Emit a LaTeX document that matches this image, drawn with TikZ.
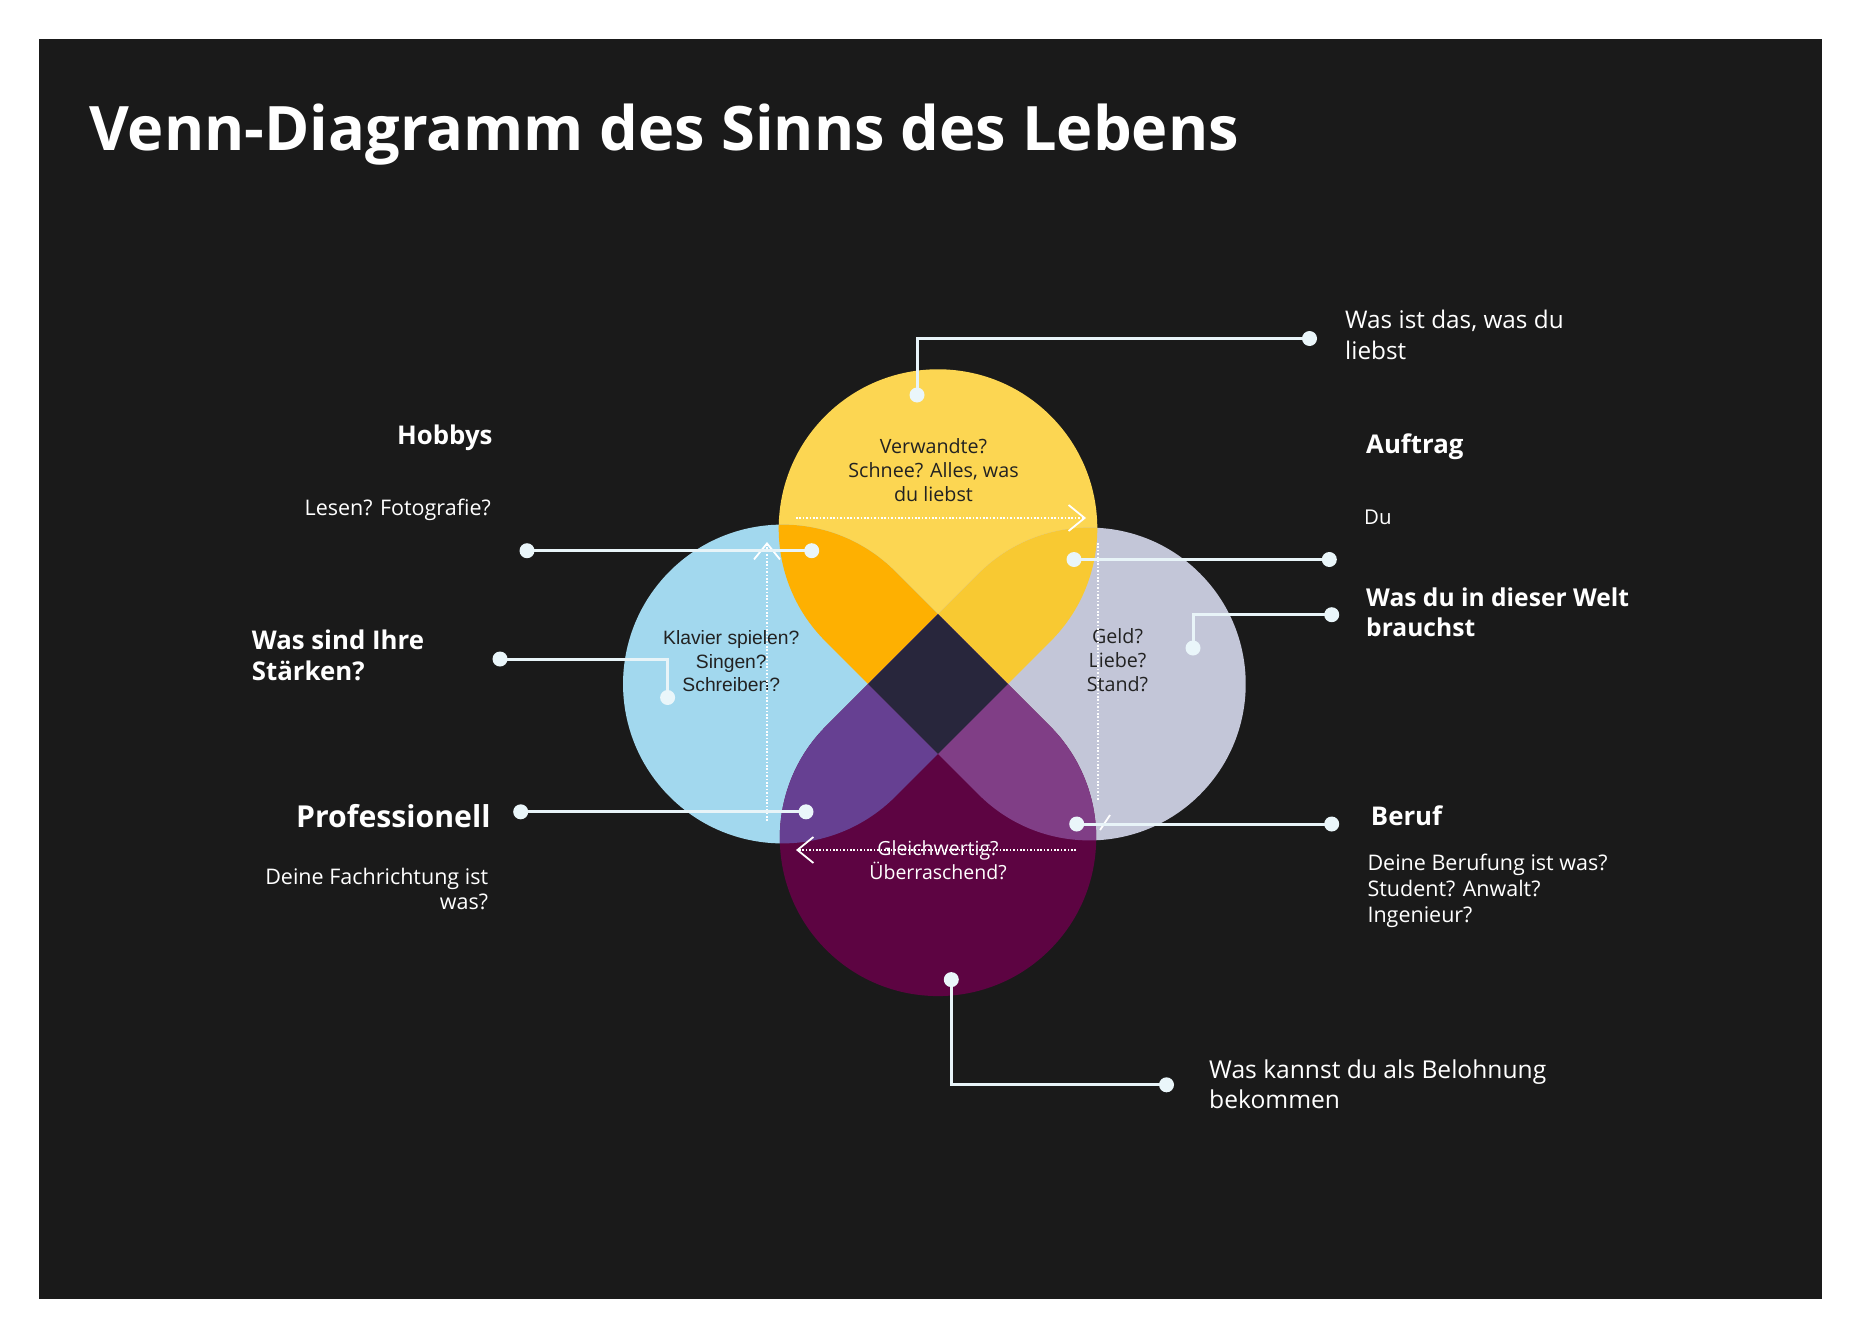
\documentclass[tikz,border=0pt]{standalone}
\usepackage{fontspec}
\setmainfont{Open Sans}
\newfontfamily\arialf{Liberation Sans}
\usetikzlibrary{arrows.meta}
\definecolor{bgdark}{HTML}{1A1A1A}
\definecolor{pyellow}{HTML}{FCD652}
\definecolor{porange}{HTML}{FEB001}
\definecolor{pgold}{HTML}{F8C932}
\definecolor{pblue}{HTML}{A2D8EE}
\definecolor{pgray}{HTML}{C3C6D8}
\definecolor{pplum}{HTML}{5D0442}
\definecolor{pviolet}{HTML}{664092}
\definecolor{pmauve}{HTML}{803E86}
\definecolor{pcore}{HTML}{28263C}
\definecolor{linec}{HTML}{E8F4F8}
\definecolor{dotc}{HTML}{EAF6FA}
\definecolor{inktext}{HTML}{222222}
% petal: tip at local origin, round end "up", radius #1
\newcommand{\petalpath}[1]{(0,0) -- ({-#1/sqrt(2)},{#1/sqrt(2)}) arc[start angle=225,end angle=-45,radius=#1pt] -- cycle}
\newcommand{\mlines}[2]{\begin{tabular}[t]{@{}#1@{}}#2\end{tabular}}
\begin{document}
\begin{tikzpicture}[x=1pt,y=1pt,
  yT/.style={shift={(938,-753.86)}},
  bT/.style={shift={(1007.86,-684)},rotate=90},
  gT/.style={shift={(868.14,-684)},rotate=-90},
  pT/.style={shift={(938,-614.14)},rotate=180},
  conn/.style={draw=linec,line width=3pt},
  dot/.style={circle,fill=dotc,minimum size=15pt,inner sep=0pt},
  dotline/.style={draw=white,line width=1.8pt,dash pattern=on 1.6pt off 1.8pt},
  cyc/.style={dotline,-{Straight Barb[length=16pt,width=26pt]}},
  txt/.style={inner sep=0pt,text=white},
  ttl/.style={txt,font=\fontsize{61.3}{70}\selectfont\bfseries},
  lblb/.style={txt,font=\fontsize{25.8}{31}\selectfont\bfseries},
  lbl/.style={txt,font=\fontsize{21.5}{25.5}\selectfont},
  inner/.style={inner sep=0pt,text=inktext,font=\fontsize{19.7}{24.2}\selectfont}
]
\useasboundingbox (0,0) rectangle (1857,-1335);
\fill[white] (0,0) rectangle (1857,-1335);
\fill[bgdark] (39,-39) rectangle (1821.5,-1299);

% petals
\fill[pyellow,yT] \petalpath{159.3};
\fill[pblue,bT] \petalpath{159.4};
\fill[pgray,gT] \petalpath{156.4};
\fill[pplum,pT] \petalpath{158.2};
\begin{scope}\clip[yT] \petalpath{159.3}; \fill[porange,bT] \petalpath{159.4}; \end{scope}
\begin{scope}\clip[yT] \petalpath{159.3}; \fill[pgold,gT] \petalpath{156.4}; \end{scope}
\begin{scope}\clip[pT] \petalpath{158.2}; \fill[pviolet,bT] \petalpath{159.4}; \end{scope}
\begin{scope}\clip[pT] \petalpath{158.2}; \fill[pmauve,gT] \petalpath{156.4}; \end{scope}
\fill[pcore] (938,-614.14) -- (1007.86,-684) -- (938,-753.86) -- (868.14,-684) -- cycle;

% inner texts
\node[inner,anchor=base] (tin) at (933.5,-453.3) {\mlines{c}{Verwandte?\\Schnee? Alles, was\\du liebst}};
\node[inner,anchor=base,font=\arialf\fontsize{19.3}{23.7}\selectfont] (lin) at (731.3,-644.3) {\mlines{c}{Klavier spielen?\\Singen?\\Schreiben?}};
\node[inner,anchor=base] (rin) at (1117.5,-643.3) {\mlines{c}{Geld?\\Liebe?\\Stand?}};
\node[inner,anchor=base,text=white,font=\fontsize{19.5}{23.5}\selectfont] (bin) at (938,-855) {\mlines{c}{Gleichwertig?\\Überraschend?}};

% dotted cycle arrows
\coordinate (a1s) at (796,-518);   \coordinate (a1e) at (1086,-518);
\coordinate (a2s) at (767,-821);   \coordinate (a2e) at (767,-542);
\coordinate (a3s) at (1098,-543);  \coordinate (a3e) at (1098,-800);
\coordinate (a3b) at (1100,-830);  \coordinate (a3c) at (1110,-815);
\coordinate (a4s) at (1076,-850);  \coordinate (a4e) at (796,-850);
\draw[cyc] (a1s) -- (a1e);
\draw[cyc] (a2s) -- (a2e);
\draw[dotline] (a3s) -- (a3e);
\draw[draw=white,line width=1.8pt] (a3b) -- (a3c);
\draw[cyc] (a4s) -- (a4e);

% connector end points
\coordinate (c1a) at (917,-395);    \coordinate (c1b) at (1309.5,-338.5);
\coordinate (c2a) at (527,-550.7);  \coordinate (c2b) at (811.7,-550.7);
\coordinate (c3a) at (500,-659);    \coordinate (c3b) at (667.6,-697.5);
\coordinate (c4a) at (520.7,-811.8);\coordinate (c4b) at (806,-811.8);
\coordinate (c5a) at (1074,-559.5); \coordinate (c5b) at (1329.3,-559.5);
\coordinate (c6a) at (1193,-648);   \coordinate (c6b) at (1331.7,-614.7);
\coordinate (c7a) at (1076.7,-824); \coordinate (c7b) at (1331.7,-824);
\coordinate (c8a) at (951.3,-979.6);\coordinate (c8b) at (1166.5,-1084.8);
\draw[conn] (c1a) |- (c1b);
\draw[conn] (c2a) -- (c2b);
\draw[conn] (c3a) -| (c3b);
\draw[conn] (c4a) -- (c4b);
\draw[conn] (c5a) -- (c5b);
\draw[conn] (c6a) |- (c6b);
\draw[conn] (c7a) -- (c7b);
\draw[conn] (c8a) |- (c8b);
\foreach \p in {c1a,c1b,c2a,c2b,c3a,c3b,c4a,c4b,c5a,c5b,c6a,c6b,c7a,c7b,c8a,c8b}
  \node[dot] (d\p) at (\p) {};

% title
\node[ttl,anchor=base west] (title) at (89,-150) {Venn-Diagramm des Sinns des Lebens};

% left labels
\node[lblb,anchor=base east] (hob) at (492.7,-444) {Hobbys};
\node[lbl,anchor=base east] (hobt) at (491,-515.5) {Lesen? Fotografie?};
\node[lblb,anchor=base west,font=\fontsize{25.8}{31.6}\selectfont\bfseries] (str) at (251.7,-649) {\mlines{l}{Was sind Ihre\\Stärken?}};
\node[lblb,anchor=base east,font=\fontsize{30.2}{34}\selectfont\bfseries] (pro) at (490.7,-827.4) {Professionell};
\node[lbl,anchor=base east,font=\fontsize{21.5}{25}\selectfont] (prot) at (488.3,-884) {\mlines{r}{Deine Fachrichtung ist\\was?}};

% right labels
\node[lbl,anchor=base west,font=\fontsize{24.3}{31}\selectfont] (lov) at (1345,-328.2) {\mlines{l}{Was ist das, was du\\liebst}};
\node[lblb,anchor=base west] (auf) at (1366,-453.2) {Auftrag};
\node[lbl,anchor=base west,font=\fontsize{20.4}{25}\selectfont] (du) at (1364,-524.6) {Du};
\node[lblb,anchor=base west,font=\fontsize{24.6}{30.4}\selectfont\bfseries] (welt) at (1366,-606) {\mlines{l}{Was du in dieser Welt\\brauchst}};
\node[lblb,anchor=base west] (ber) at (1370.7,-825.5) {Beruf};
\node[lbl,anchor=base west,font=\fontsize{21.5}{26.3}\selectfont] (bert) at (1367.3,-870.2) {\mlines{l}{Deine Berufung ist was?\\Student? Anwalt?\\Ingenieur?}};
\node[lbl,anchor=base west,font=\fontsize{24.6}{30.6}\selectfont] (bel) at (1209,-1078) {\mlines{l}{Was kannst du als Belohnung\\bekommen}};
\end{tikzpicture}
\end{document}
